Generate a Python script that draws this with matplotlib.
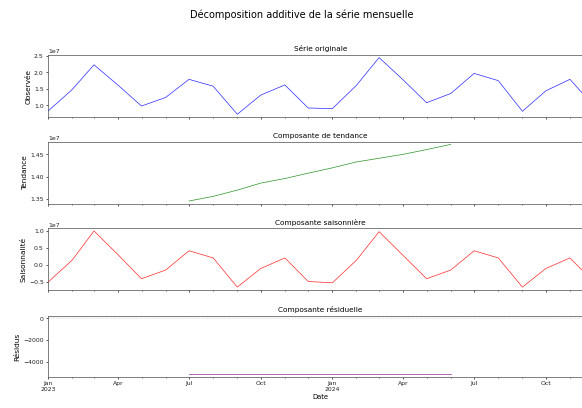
import numpy as np
import pandas as pd
import matplotlib.pyplot as plt
import matplotlib.dates as mdates
from matplotlib.ticker import MultipleLocator

# Donnees mensuelles (en unites, l'axe affiche 1e7)
dates = pd.date_range('2023-01-01', '2024-12-01', freq='MS')

observee = [0.825, 1.48, 2.23, 1.61, 0.98, 1.24, 1.79, 1.58, 0.73, 1.31, 1.62, 0.92,
            0.90, 1.61, 2.45, 1.77, 1.08, 1.36, 1.97, 1.75, 0.82, 1.44, 1.79, 1.00]

tendance = [np.nan] * 6 + [1.3455, 1.356, 1.370, 1.3857, 1.396, 1.408,
                           1.420, 1.4333, 1.4415, 1.4504, 1.461, 1.4728] + [np.nan] * 6

saison = [-0.50, 0.145, 1.00, 0.30, -0.40, -0.145, 0.42, 0.21, -0.645, -0.10, 0.21, -0.48,
          -0.52, 0.145, 0.98, 0.28, -0.40, -0.145, 0.42, 0.21, -0.645, -0.10, 0.21, -0.48]

residus = [np.nan] * 6 + [-5100] * 12 + [np.nan] * 6

observee = np.array(observee) * 1e7
tendance = np.array(tendance) * 1e7
saison = np.array(saison) * 1e7
residus = np.array(residus, dtype=float)

DPI = 44
W, H = 582, 408
fig = plt.figure(figsize=((W + 0.3) / DPI, (H + 0.3) / DPI), dpi=DPI)

# positions des axes en pixels (haut, bas)
left, right = 48, 593
rows = [(55, 117.3), (141.7, 204), (228.3, 290), (315.7, 376.7)]

axes = []
for i, (top, bot) in enumerate(rows):
    rect = [left / W, 1 - bot / H, (right - left) / W, (bot - top) / H]
    if i == 0:
        ax = fig.add_axes(rect)
    else:
        ax = fig.add_axes(rect, sharex=axes[0])
    axes.append(ax)

panneaux = [
    (observee, 'blue', 'Série originale', 'Observée'),
    (tendance, 'green', 'Composante de tendance', 'Tendance'),
    (saison, 'red', 'Composante saisonnière', 'Saisonnalité'),
    (residus, 'purple', 'Composante résiduelle', 'Résidus'),
]

for ax, (vals, col, titre, ylab) in zip(axes, panneaux):
    ax.plot(dates, vals, color=col, linewidth=1.2, alpha=0.8)
    ax.set_title(titre, fontsize=12)
    ax.set_ylabel(ylab, fontsize=12)
    ax.tick_params(labelsize=10, colors='#222222', width=1.2)
    ax.tick_params(which='minor', width=1.0)
    ax.yaxis.get_offset_text().set_fontsize(10)
    for sp in ax.spines.values():
        sp.set_linewidth(1.2)
        sp.set_color('#555555')

axes[1].yaxis.set_major_locator(MultipleLocator(0.05e7))
axes[3].axhline(0, color='gray', linestyle='--', linewidth=0.8, alpha=0.5)

ax0 = axes[0]
ax0.set_xlim(dates[0], dates[-1])
ax0.xaxis.set_major_locator(mdates.MonthLocator(bymonth=[1, 4, 7, 10]))
ax0.xaxis.set_minor_locator(mdates.MonthLocator())


def fmt(x, pos=None):
    d = mdates.num2date(x)
    if d.month == 1:
        return d.strftime('%b\n%Y')
    return d.strftime('%b')


ax0.xaxis.set_major_formatter(plt.FuncFormatter(fmt))
for ax in axes[:-1]:
    plt.setp(ax.get_xticklabels(), visible=False)
for ax in axes:
    ax.tick_params(axis='x', which='both', labelsize=10)
axes[3].set_xlabel('Date', fontsize=11)

fig.text(301.5 / W, 1 - 15 / H, 'Décomposition additive de la série mensuelle',
         ha='center', va='center', fontsize=16)

fig.savefig('out.png', dpi=DPI)
